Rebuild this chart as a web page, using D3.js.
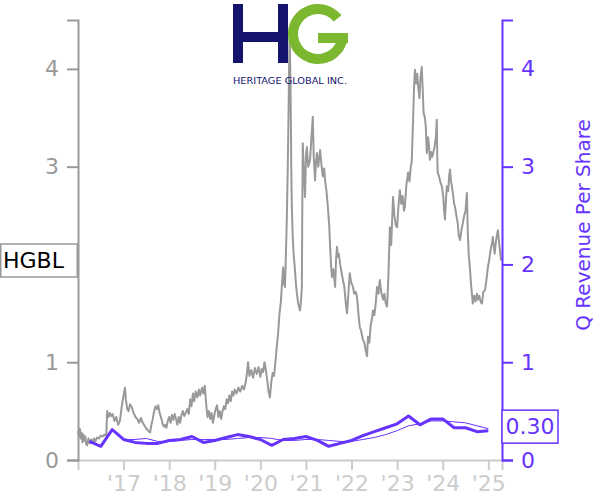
<!DOCTYPE html>
<html><head><meta charset="utf-8">
<script src="https://cdn.jsdelivr.net/npm/d3@7"></script>
<style>body{margin:0;background:#fff}svg{display:block}</style>
</head><body><svg id="c" width="600" height="500"></svg>
<script>
// ---- data (decimal years) ----
const priceDates = [2016.00,2016.02,2016.04,2016.06,2016.08,2016.10,2016.12,2016.14,2016.16,2016.18,2016.20,2016.23,2016.26,2016.29,2016.32,2016.35,2016.38,2016.42,2016.46,2016.50,2016.54,2016.58,2016.62,2016.64,2016.67,2016.70,2016.73,2016.76,2016.80,2016.84,2016.88,2016.92,2016.96,2017.00,2017.03,2017.05,2017.08,2017.11,2017.14,2017.18,2017.22,2017.26,2017.30,2017.34,2017.38,2017.42,2017.46,2017.50,2017.54,2017.58,2017.61,2017.64,2017.67,2017.70,2017.73,2017.76,2017.79,2017.82,2017.85,2017.88,2017.91,2017.94,2017.97,2018.00,2018.03,2018.06,2018.09,2018.12,2018.15,2018.18,2018.21,2018.24,2018.27,2018.30,2018.33,2018.36,2018.40,2018.43,2018.46,2018.49,2018.52,2018.55,2018.58,2018.62,2018.65,2018.68,2018.72,2018.75,2018.78,2018.81,2018.84,2018.87,2018.90,2018.93,2018.96,2018.99,2019.02,2019.05,2019.08,2019.11,2019.14,2019.17,2019.20,2019.23,2019.26,2019.29,2019.32,2019.35,2019.38,2019.41,2019.44,2019.48,2019.52,2019.56,2019.60,2019.64,2019.68,2019.71,2019.73,2019.76,2019.80,2019.84,2019.88,2019.92,2019.96,2020.00,2020.03,2020.06,2020.09,2020.12,2020.15,2020.18,2020.21,2020.24,2020.27,2020.30,2020.33,2020.36,2020.39,2020.42,2020.45,2020.47,2020.50,2020.52,2020.54,2020.56,2020.58,2020.60,2020.62,2020.64,2020.66,2020.68,2020.69,2020.71,2020.73,2020.76,2020.78,2020.80,2020.83,2020.87,2020.89,2020.91,2020.92,2020.93,2020.95,2020.98,2021.00,2021.02,2021.05,2021.09,2021.12,2021.15,2021.17,2021.20,2021.22,2021.24,2021.27,2021.31,2021.34,2021.37,2021.40,2021.42,2021.45,2021.48,2021.51,2021.53,2021.55,2021.57,2021.60,2021.64,2021.66,2021.68,2021.70,2021.72,2021.75,2021.78,2021.81,2021.84,2021.87,2021.90,2021.93,2021.96,2021.99,2022.03,2022.06,2022.09,2022.12,2022.15,2022.18,2022.21,2022.25,2022.28,2022.31,2022.34,2022.36,2022.39,2022.42,2022.45,2022.47,2022.50,2022.53,2022.56,2022.59,2022.62,2022.65,2022.69,2022.72,2022.75,2022.78,2022.81,2022.84,2022.87,2022.91,2022.94,2022.97,2023.00,2023.03,2023.06,2023.09,2023.12,2023.15,2023.17,2023.20,2023.24,2023.27,2023.30,2023.32,2023.35,2023.37,2023.39,2023.42,2023.44,2023.46,2023.49,2023.51,2023.54,2023.56,2023.58,2023.61,2023.63,2023.65,2023.68,2023.70,2023.72,2023.75,2023.77,2023.79,2023.82,2023.85,2023.87,2023.88,2023.89,2023.92,2023.95,2023.98,2024.01,2024.03,2024.05,2024.07,2024.09,2024.12,2024.14,2024.16,2024.18,2024.20,2024.23,2024.25,2024.27,2024.30,2024.33,2024.35,2024.38,2024.41,2024.44,2024.47,2024.50,2024.53,2024.55,2024.57,2024.60,2024.62,2024.64,2024.66,2024.69,2024.72,2024.75,2024.77,2024.80,2024.83,2024.86,2024.89,2024.93,2024.96,2024.99,2025.02,2025.05,2025.08,2025.10,2025.12,2025.14,2025.17,2025.19,2025.21,2025.24,2025.26,2025.28];
const priceValues = [0.30,0.24,0.32,0.22,0.28,0.18,0.26,0.20,0.24,0.16,0.15,0.22,0.17,0.21,0.18,0.22,0.19,0.23,0.22,0.25,0.24,0.26,0.25,0.50,0.44,0.48,0.45,0.47,0.40,0.44,0.36,0.40,0.55,0.66,0.74,0.62,0.52,0.50,0.57,0.54,0.48,0.44,0.42,0.38,0.43,0.38,0.35,0.32,0.30,0.28,0.36,0.42,0.50,0.55,0.52,0.56,0.48,0.44,0.38,0.34,0.36,0.33,0.40,0.44,0.38,0.46,0.41,0.47,0.42,0.36,0.44,0.38,0.46,0.50,0.45,0.48,0.52,0.47,0.62,0.55,0.68,0.60,0.70,0.64,0.72,0.66,0.74,0.68,0.76,0.58,0.44,0.50,0.42,0.48,0.38,0.46,0.52,0.56,0.44,0.50,0.42,0.50,0.55,0.52,0.62,0.58,0.66,0.60,0.70,0.66,0.72,0.68,0.74,0.70,0.76,0.72,0.80,0.90,1.00,0.86,0.92,0.84,0.94,0.88,0.95,0.85,0.93,0.90,1.00,0.92,0.82,0.70,0.64,0.80,0.89,0.86,1.00,1.16,1.30,1.50,1.62,1.77,1.97,1.80,1.77,2.10,2.46,2.97,3.60,4.40,3.90,2.90,2.59,2.28,2.10,1.94,1.80,1.71,1.60,1.53,1.62,1.77,2.60,3.24,3.00,2.69,3.10,3.20,3.00,3.07,3.30,3.51,3.10,2.86,3.05,3.14,3.00,3.17,3.02,2.90,2.98,2.86,2.75,2.59,2.40,2.18,2.00,1.87,1.95,1.77,2.05,2.18,2.08,2.11,2.00,1.92,1.84,1.78,1.62,1.50,1.70,1.91,1.82,1.77,1.70,1.72,1.67,1.50,1.36,1.32,1.23,1.20,1.12,1.06,1.26,1.20,1.38,1.45,1.53,1.48,1.60,1.77,1.70,1.84,1.72,1.64,1.70,1.60,1.57,1.90,2.38,2.20,2.69,2.50,2.40,2.38,2.60,2.76,2.62,2.70,2.55,2.59,2.80,2.94,2.85,3.00,3.05,3.48,3.80,3.99,3.85,3.95,3.82,3.70,3.90,4.02,3.80,3.55,3.50,3.40,3.14,3.30,3.20,3.07,3.15,3.10,3.14,3.20,3.30,3.48,3.10,2.94,2.90,2.84,2.80,2.70,2.55,2.46,2.65,2.80,2.75,2.90,2.97,2.85,2.80,2.70,2.62,2.59,2.50,2.42,2.30,2.25,2.35,2.42,2.50,2.55,2.73,2.32,2.10,1.94,1.80,1.70,1.60,1.68,1.62,1.70,1.64,1.68,1.62,1.60,1.72,1.74,1.85,1.97,2.05,2.15,2.22,2.28,2.18,2.11,2.25,2.30,2.35,2.20,2.12,2.04];
const revDates = [2016.25,2016.50,2016.75,2017.00,2017.25,2017.50,2017.75,2018.00,2018.25,2018.50,2018.75,2019.00,2019.25,2019.50,2019.75,2020.00,2020.25,2020.50,2020.75,2021.00,2021.25,2021.50,2021.75,2022.00,2022.25,2022.50,2022.75,2023.00,2023.25,2023.50,2023.75,2024.00,2024.25,2024.50,2024.75,2025.00];
const revValues = [0.19,0.14,0.31,0.21,0.18,0.17,0.17,0.20,0.21,0.24,0.18,0.20,0.23,0.26,0.24,0.21,0.15,0.21,0.22,0.24,0.20,0.14,0.17,0.20,0.25,0.29,0.33,0.37,0.45,0.36,0.42,0.42,0.33,0.33,0.29,0.30];
const revAvgDates = revDates.slice(3);
const revAvgValues = [0.21,0.21,0.22,0.19,0.19,0.20,0.21,0.21,0.21,0.21,0.22,0.23,0.23,0.22,0.20,0.20,0.21,0.21,0.20,0.19,0.19,0.21,0.23,0.26,0.30,0.35,0.37,0.40,0.40,0.39,0.38,0.35,0.32];
const leftTicks = [0,1,3,4];      // the "2" tick sits under the ticker box
const rightTicks = [0,1,2,3,4];
const xTicks = [2017,2018,2019,2020,2021,2022,2023,2024,2025];
const xTickLabels = ["'17","'18","'19","'20","'21","'22","'23","'24","'25"];
const ticker = "HGBL";
const lastRevLabel = "0.30";
const rightTitle = "Q Revenue Per Share";

// ---- drawing ----
const PURPLE = "#6633ff", GRAY = "#999999", LIGHT = "#cccccc";
const FONT = "DejaVu Sans, sans-serif";
const svg = d3.select("#c");
const x = d3.scaleLinear().domain([2016, 2025.3]).range([78, 502]);
const y = d3.scaleLinear().domain([0, 4.5]).range([460, 20]);

const line = d3.line().x(d => x(d[0])).y(d => y(d[1]));

// price
svg.append("path").datum(d3.zip(priceDates, priceValues))
  .attr("d", line).attr("fill", "none").attr("stroke", GRAY).attr("stroke-width", 2)
  .attr("stroke-linejoin", "round");
// revenue avg (thin)
svg.append("path").datum(d3.zip(revAvgDates, revAvgValues))
  .attr("d", line).attr("fill", "none").attr("stroke", PURPLE).attr("stroke-width", 1);
// revenue quarterly (thick)
svg.append("path").datum(d3.zip(revDates, revValues))
  .attr("d", line).attr("fill", "none").attr("stroke", PURPLE).attr("stroke-width", 3)
  .attr("stroke-linejoin", "round");

// logo
const logo = svg.append("g");
const NAVY = "#14146e", GREEN = "#7cb82f";
logo.append("rect").attr("x", 233).attr("y", 4).attr("width", 10).attr("height", 59).attr("fill", NAVY);
logo.append("rect").attr("x", 278).attr("y", 4).attr("width", 10).attr("height", 59).attr("fill", NAVY);
logo.append("rect").attr("x", 233).attr("y", 32).attr("width", 55).attr("height", 10).attr("fill", NAVY);
logo.append("path").attr("transform", "translate(318,34)")
  .attr("d", d3.arc().innerRadius(20).outerRadius(30).startAngle(Math.PI/2).endAngle(2*Math.PI + 0.9)())
  .attr("fill", GREEN);
logo.append("rect").attr("x", 318).attr("y", 33).attr("width", 30).attr("height", 10).attr("fill", GREEN);
logo.append("text").attr("x", 233).attr("y", 84).attr("font-family", FONT).attr("font-size", 9)
  .attr("textLength", 114).attr("lengthAdjust", "spacingAndGlyphs").attr("fill", NAVY)
  .text("HERITAGE GLOBAL INC.");

function styleAxis(g, color, textColor) {
  g.selectAll("path.domain").attr("stroke", color).attr("stroke-width", 2);
  g.selectAll(".tick line").attr("stroke", color).attr("stroke-width", 2);
  g.selectAll(".tick text").attr("fill", textColor).attr("font-size", 22).attr("font-family", FONT);
}

// bottom axis
const gx = svg.append("g").attr("transform", "translate(0,460)")
  .call(d3.axisBottom(x).tickValues(xTicks).tickFormat((d, i) => xTickLabels[i])
    .tickSize(10).tickSizeOuter(10).tickPadding(5));
styleAxis(gx, LIGHT, LIGHT);

// left axis
const gl = svg.append("g").attr("transform", "translate(78,0)")
  .call(d3.axisLeft(y).tickValues(leftTicks).tickFormat(d3.format("d"))
    .tickSize(11).tickSizeOuter(11).tickPadding(8));
styleAxis(gl, GRAY, GRAY);

// right axis
const gr = svg.append("g").attr("transform", "translate(502,0)")
  .call(d3.axisRight(y).tickValues(rightTicks).tickFormat(d3.format("d"))
    .tickSize(11).tickSizeOuter(11).tickPadding(8));
styleAxis(gr, PURPLE, PURPLE);

svg.append("text").attr("transform", "translate(583,225) rotate(-90)")
  .attr("text-anchor", "middle").attr("dominant-baseline", "central")
  .attr("font-family", FONT).attr("font-size", 20).attr("fill", PURPLE).text(rightTitle);

// last revenue box
const ry = y(revValues[revValues.length - 1]) - 4;
svg.append("rect").attr("x", 502).attr("y", ry - 16.5).attr("width", 56).attr("height", 33)
  .attr("fill", "#fff").attr("stroke", PURPLE).attr("stroke-width", 1.5);
svg.append("text").attr("x", 530).attr("y", ry).attr("text-anchor", "middle")
  .attr("dominant-baseline", "central").attr("font-family", FONT).attr("font-size", 22)
  .attr("fill", PURPLE).text(lastRevLabel);

// ticker box
const py = y(priceValues[priceValues.length - 1]);
svg.append("rect").attr("x", 0.75).attr("y", py - 16.5).attr("width", 76.5).attr("height", 33)
  .attr("fill", "#fff").attr("stroke", GRAY).attr("stroke-width", 1.5);
svg.append("text").attr("x", 3).attr("y", py).attr("dominant-baseline", "central")
  .attr("font-family", FONT).attr("font-size", 22).attr("fill", "#000").text(ticker);
</script></body></html>
